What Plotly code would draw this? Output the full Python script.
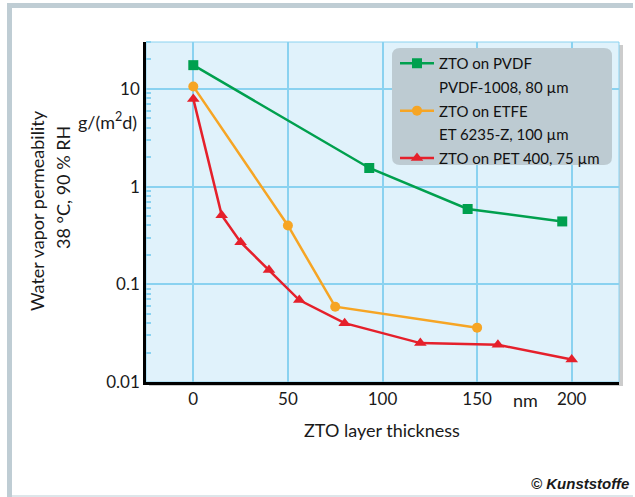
import plotly.graph_objects as go

# ---- data ----
pvdf_x = [0, 93, 145, 195]
pvdf_y = [17.5, 1.55, 0.59, 0.44]
etfe_x = [0, 50, 75, 150]
etfe_y = [10.6, 0.40, 0.059, 0.036]
pet_x = [0, 15, 25, 40, 56, 80, 120, 161, 200]
pet_y = [7.9, 0.51, 0.27, 0.14, 0.069, 0.040, 0.025, 0.024, 0.017]
x_ticks = [0, 50, 100, 150, 200]
y_ticks = [0.01, 0.1, 1, 10]
y_tick_labels = ["0.01", "0.1", "1", "10"]
y_minor = [m * 10 ** e for e in (-2, -1, 0, 1) for m in range(2, 10)]

FONT = "Lato"
GREEN = "#00a04e"
ORANGE = "#f6a524"
RED = "#e5202b"
GRID = "#8ad2f0"
TXT = "#1a1a1a"

W, H = 635, 497
L, R, T, B = 146, 16, 42, 115
PW, PH = W - L - R, H - T - B


def px(x):
    return (x - L) / PW


def py(y):
    return (H - B - y) / PH


fig = go.Figure()
fig.add_trace(go.Scatter(x=pvdf_x, y=pvdf_y, mode="lines+markers", name="ZTO on PVDF",
                         line=dict(color=GREEN, width=2.5),
                         marker=dict(symbol="square", size=10, color=GREEN),
                         legendgroup="a"))
fig.add_trace(go.Scatter(x=[None], y=[None], mode="lines", name="PVDF-1008, 80 µm",
                         line=dict(color="rgba(0,0,0,0)", width=0), legendgroup="b",
                         hoverinfo="skip"))
fig.add_trace(go.Scatter(x=etfe_x, y=etfe_y, mode="lines+markers", name="ZTO on ETFE",
                         line=dict(color=ORANGE, width=2.5),
                         marker=dict(symbol="circle", size=10, color=ORANGE),
                         legendgroup="c"))
fig.add_trace(go.Scatter(x=[None], y=[None], mode="lines", name="ET 6235-Z, 100 µm",
                         line=dict(color="rgba(0,0,0,0)", width=0), legendgroup="d",
                         hoverinfo="skip"))
fig.add_trace(go.Scatter(x=pet_x, y=pet_y, mode="lines+markers", name="ZTO on PET 400, 75 µm",
                         line=dict(color=RED, width=2.5),
                         marker=dict(symbol="triangle-up", size=11, color=RED),
                         legendgroup="e"))

shapes = [
    # outer frame
    dict(type="rect", xref="paper", yref="paper", x0=px(7), x1=px(633), y0=py(3), y1=py(8),
         fillcolor="#bfcdd4", line=dict(width=0), layer="below"),
    dict(type="rect", xref="paper", yref="paper", x0=px(7), x1=px(12), y0=py(3), y1=py(497),
         fillcolor="#bfcdd4", line=dict(width=0), layer="below"),
    dict(type="rect", xref="paper", yref="paper", x0=px(12), x1=px(633), y0=py(495), y1=py(497),
         fillcolor="#dde6ea", line=dict(width=0), layer="below"),
    # plot shadow
    dict(type="rect", xref="paper", yref="paper", x0=px(149), x1=px(623), y0=py(45), y1=py(386),
         fillcolor="rgba(110,110,110,0.35)", line=dict(width=0), layer="below"),
    # plot background
    dict(type="rect", xref="paper", yref="paper", x0=0, x1=1, y0=0, y1=1,
         fillcolor="#e0f2fb", line=dict(color=GRID, width=1), layer="below"),
]
# legend rounded box
x0, x1, y0, y1, r = px(392), px(612), py(165), py(48), 8
rx, ry = r / PW, r / PH
path = (f"M {x0+rx},{y0} L {x1-rx},{y0} Q {x1},{y0} {x1},{y0+ry} L {x1},{y1-ry} "
        f"Q {x1},{y1} {x1-rx},{y1} L {x0+rx},{y1} Q {x0},{y1} {x0},{y1-ry} "
        f"L {x0},{y0+ry} Q {x0},{y0} {x0+rx},{y0} Z")
shapes.append(dict(type="path", xref="paper", yref="paper", path=path,
                   fillcolor="#bdcbd2", line=dict(width=0), layer="above"))


def ann(text, x, y, xa="center", ya="middle", angle=0, size=18, fam=FONT):
    return dict(text=text, xref="paper", yref="paper", x=px(x), y=py(y),
                xanchor=xa, yanchor=ya, textangle=angle, showarrow=False,
                font=dict(size=size, color=TXT, family=fam))


annotations = [
    ann("Water vapor permeability", 37, 211, angle=-90),
    ann("38 °C, 90 % RH", 63, 188, angle=-90),
    ann("g/(m<sup>2</sup>d)", 139, 121, xa="right"),
    ann("nm", 525, 400),
    ann("ZTO layer thickness", 382, 430),
    ann("<b><i>© Kunststoffe</i></b>", 631, 483, xa="right", size=15,
        fam="Liberation Sans, Arial, sans-serif"),
]

fig.update_layout(
    width=W, height=H,
    margin=dict(l=L, r=R, t=T, b=B),
    paper_bgcolor="white",
    plot_bgcolor="rgba(0,0,0,0)",
    font=dict(family=FONT, size=18, color=TXT),
    shapes=shapes,
    annotations=annotations,
    showlegend=True,
    legend=dict(x=px(395), y=py(47), xanchor="left", yanchor="top",
                bgcolor="rgba(0,0,0,0)", borderwidth=0,
                font=dict(size=15, family=FONT, color="#111111"),
                traceorder="grouped", tracegroupgap=1.2, itemwidth=34),
    xaxis=dict(range=[-25, 225], tickvals=x_ticks, ticks="", showgrid=True,
               gridcolor=GRID, gridwidth=1.5, zeroline=False,
               showline=True, linecolor="black", linewidth=2.5, mirror=False,
               tickfont=dict(size=17)),
    yaxis=dict(type="log", range=[-2, 1.48], tickvals=y_ticks, ticktext=y_tick_labels,
               ticks="", showgrid=True, gridcolor=GRID, gridwidth=1.5, zeroline=False,
               showline=True, linecolor="black", linewidth=2.5, mirror=False,
               tickfont=dict(size=17),
               minor=dict(tickmode="array", tickvals=y_minor, ticks="inside", ticklen=5,
                          tickcolor=GRID, tickwidth=1.5, showgrid=False)),
)

fig.write_html("out.html", config={"displayModeBar": False},
               post_script="document.body.style.margin='0px';")
